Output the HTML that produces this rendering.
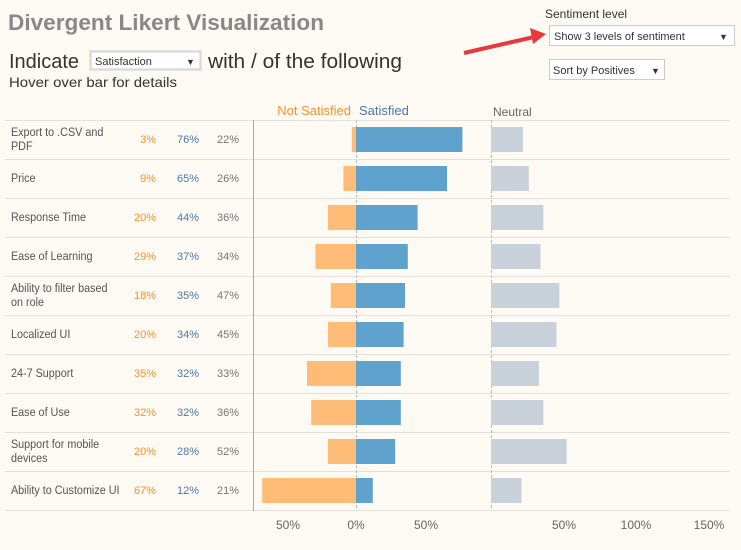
<!DOCTYPE html>
<html><head><meta charset="utf-8"><style>
body{margin:0;background:#fdf9f3;width:741px;height:550px;overflow:hidden;font-family:"Liberation Sans",sans-serif}
svg{position:absolute;left:0;top:0}
</style></head><body>
<svg width="741" height="550" font-family="Liberation Sans, sans-serif">
<rect width="741" height="550" fill="#fdf9f3"/>
<text x="8" y="30" font-size="22" font-weight="bold" fill="#888" textLength="316" lengthAdjust="spacingAndGlyphs">Divergent Likert Visualization</text>
<text x="9" y="68" font-size="20" fill="#333">Indicate</text>
<rect x="89" y="50" width="113" height="21" fill="#e6e4e0"/>
<rect x="91" y="52" width="109" height="17" fill="#fff" stroke="#ccc"/>
<text x="95" y="65" font-size="11" fill="#333">Satisfaction</text>
<text x="186" y="65" font-size="9" fill="#333">▼</text>
<text x="208" y="68" font-size="20" fill="#333" textLength="194" lengthAdjust="spacingAndGlyphs">with / of the following</text>
<text x="9" y="87" font-size="14" fill="#333" textLength="168" lengthAdjust="spacingAndGlyphs">Hover over bar for details</text>
<text x="545" y="18" font-size="12" fill="#333">Sentiment level</text>
<rect x="549.5" y="25.5" width="185" height="20" fill="#fff" stroke="#ccc"/>
<text x="554" y="40" font-size="11" fill="#333">Show 3 levels of sentiment</text>
<text x="719" y="40" font-size="9" fill="#333">▼</text>
<rect x="549.5" y="59.5" width="115" height="20" fill="#fff" stroke="#ccc"/>
<text x="553" y="74" font-size="11" fill="#333">Sort by Positives</text>
<text x="651" y="74" font-size="9" fill="#333">▼</text>
<line x1="464" y1="53" x2="534" y2="37" stroke="#e8383d" stroke-width="4"/>
<polygon points="546,34 530,28 533,44" fill="#e8383d"/>
<text x="351" y="115" font-size="13" fill="#f5922f" text-anchor="end">Not Satisfied</text>
<text x="359" y="115" font-size="13" fill="#4e79a7">Satisfied</text>
<text x="493" y="116" font-size="12" fill="#666">Neutral</text>
<g stroke="#e4e1dc" stroke-width="1">
<line x1="5" y1="120.5" x2="730" y2="120.5"/><line x1="5" y1="159.5" x2="730" y2="159.5"/><line x1="5" y1="198.5" x2="730" y2="198.5"/><line x1="5" y1="237.5" x2="730" y2="237.5"/><line x1="5" y1="276.5" x2="730" y2="276.5"/><line x1="5" y1="315.5" x2="730" y2="315.5"/><line x1="5" y1="354.5" x2="730" y2="354.5"/><line x1="5" y1="393.5" x2="730" y2="393.5"/><line x1="5" y1="432.5" x2="730" y2="432.5"/><line x1="5" y1="471.5" x2="730" y2="471.5"/><line x1="5" y1="510.5" x2="730" y2="510.5"/>
</g>
<line x1="253.5" y1="120" x2="253.5" y2="511" stroke="#aaa"/>
<line x1="356.5" y1="120" x2="356.5" y2="510" stroke="#bbb" stroke-dasharray="3,2"/>
<line x1="491.5" y1="120" x2="491.5" y2="510" stroke="#bbb" stroke-dasharray="3,2"/>
<g fill="#ffbc76">
<rect x="351.8" y="127" width="4.2" height="25"/><rect x="343.4" y="166" width="12.6" height="25"/><rect x="328" y="205" width="28" height="25"/><rect x="315.4" y="244" width="40.6" height="25"/><rect x="330.8" y="283" width="25.2" height="25"/><rect x="328" y="322" width="28" height="25"/><rect x="307" y="361" width="49" height="25"/><rect x="311.2" y="400" width="44.8" height="25"/><rect x="328" y="439" width="28" height="25"/><rect x="262.2" y="478" width="93.8" height="25"/>
</g>
<g fill="#5fa2ce">
<rect x="356" y="127" width="106.4" height="25"/><rect x="356" y="166" width="91" height="25"/><rect x="356" y="205" width="61.6" height="25"/><rect x="356" y="244" width="51.8" height="25"/><rect x="356" y="283" width="49" height="25"/><rect x="356" y="322" width="47.6" height="25"/><rect x="356" y="361" width="44.8" height="25"/><rect x="356" y="400" width="44.8" height="25"/><rect x="356" y="439" width="39.2" height="25"/><rect x="356" y="478" width="16.8" height="25"/>
</g>
<g fill="#c8d0d9">
<rect x="491" y="127" width="32" height="25"/><rect x="491" y="166" width="37.8" height="25"/><rect x="491" y="205" width="52.3" height="25"/><rect x="491" y="244" width="49.4" height="25"/><rect x="491" y="283" width="68.3" height="25"/><rect x="491" y="322" width="65.4" height="25"/><rect x="491" y="361" width="47.9" height="25"/><rect x="491" y="400" width="52.3" height="25"/><rect x="491" y="439" width="75.6" height="25"/><rect x="491" y="478" width="30.5" height="25"/>
</g>
<g font-size="12" fill="#555" transform="scale(0.9,1)">
<text x="12.2" y="136">Export to .CSV and</text><text x="12.2" y="150">PDF</text>
<text x="12.2" y="182">Price</text>
<text x="12.2" y="221">Response Time</text>
<text x="12.2" y="260">Ease of Learning</text>
<text x="12.2" y="292">Ability to filter based</text><text x="12.2" y="306">on role</text>
<text x="12.2" y="338">Localized UI</text>
<text x="12.2" y="377">24-7 Support</text>
<text x="12.2" y="416">Ease of Use</text>
<text x="12.2" y="448">Support for mobile</text><text x="12.2" y="462">devices</text>
<text x="12.2" y="494">Ability to Customize UI</text>
</g>
<g font-size="11" fill="#f5922f" text-anchor="end">
<text x="156" y="143">3%</text><text x="156" y="182">9%</text><text x="156" y="221">20%</text><text x="156" y="260">29%</text><text x="156" y="299">18%</text><text x="156" y="338">20%</text><text x="156" y="377">35%</text><text x="156" y="416">32%</text><text x="156" y="455">20%</text><text x="156" y="494">67%</text>
</g>
<g font-size="11" fill="#4e79a7" text-anchor="end">
<text x="199" y="143">76%</text><text x="199" y="182">65%</text><text x="199" y="221">44%</text><text x="199" y="260">37%</text><text x="199" y="299">35%</text><text x="199" y="338">34%</text><text x="199" y="377">32%</text><text x="199" y="416">32%</text><text x="199" y="455">28%</text><text x="199" y="494">12%</text>
</g>
<g font-size="11" fill="#777" text-anchor="end">
<text x="239" y="143">22%</text><text x="239" y="182">26%</text><text x="239" y="221">36%</text><text x="239" y="260">34%</text><text x="239" y="299">47%</text><text x="239" y="338">45%</text><text x="239" y="377">33%</text><text x="239" y="416">36%</text><text x="239" y="455">52%</text><text x="239" y="494">21%</text>
</g>
<g font-size="12" fill="#666" text-anchor="middle">
<text x="288" y="529">50%</text><text x="356" y="529">0%</text><text x="426" y="529">50%</text><text x="564" y="529">50%</text><text x="636" y="529">100%</text><text x="709" y="529">150%</text>
</g>
</svg>
</body></html>
